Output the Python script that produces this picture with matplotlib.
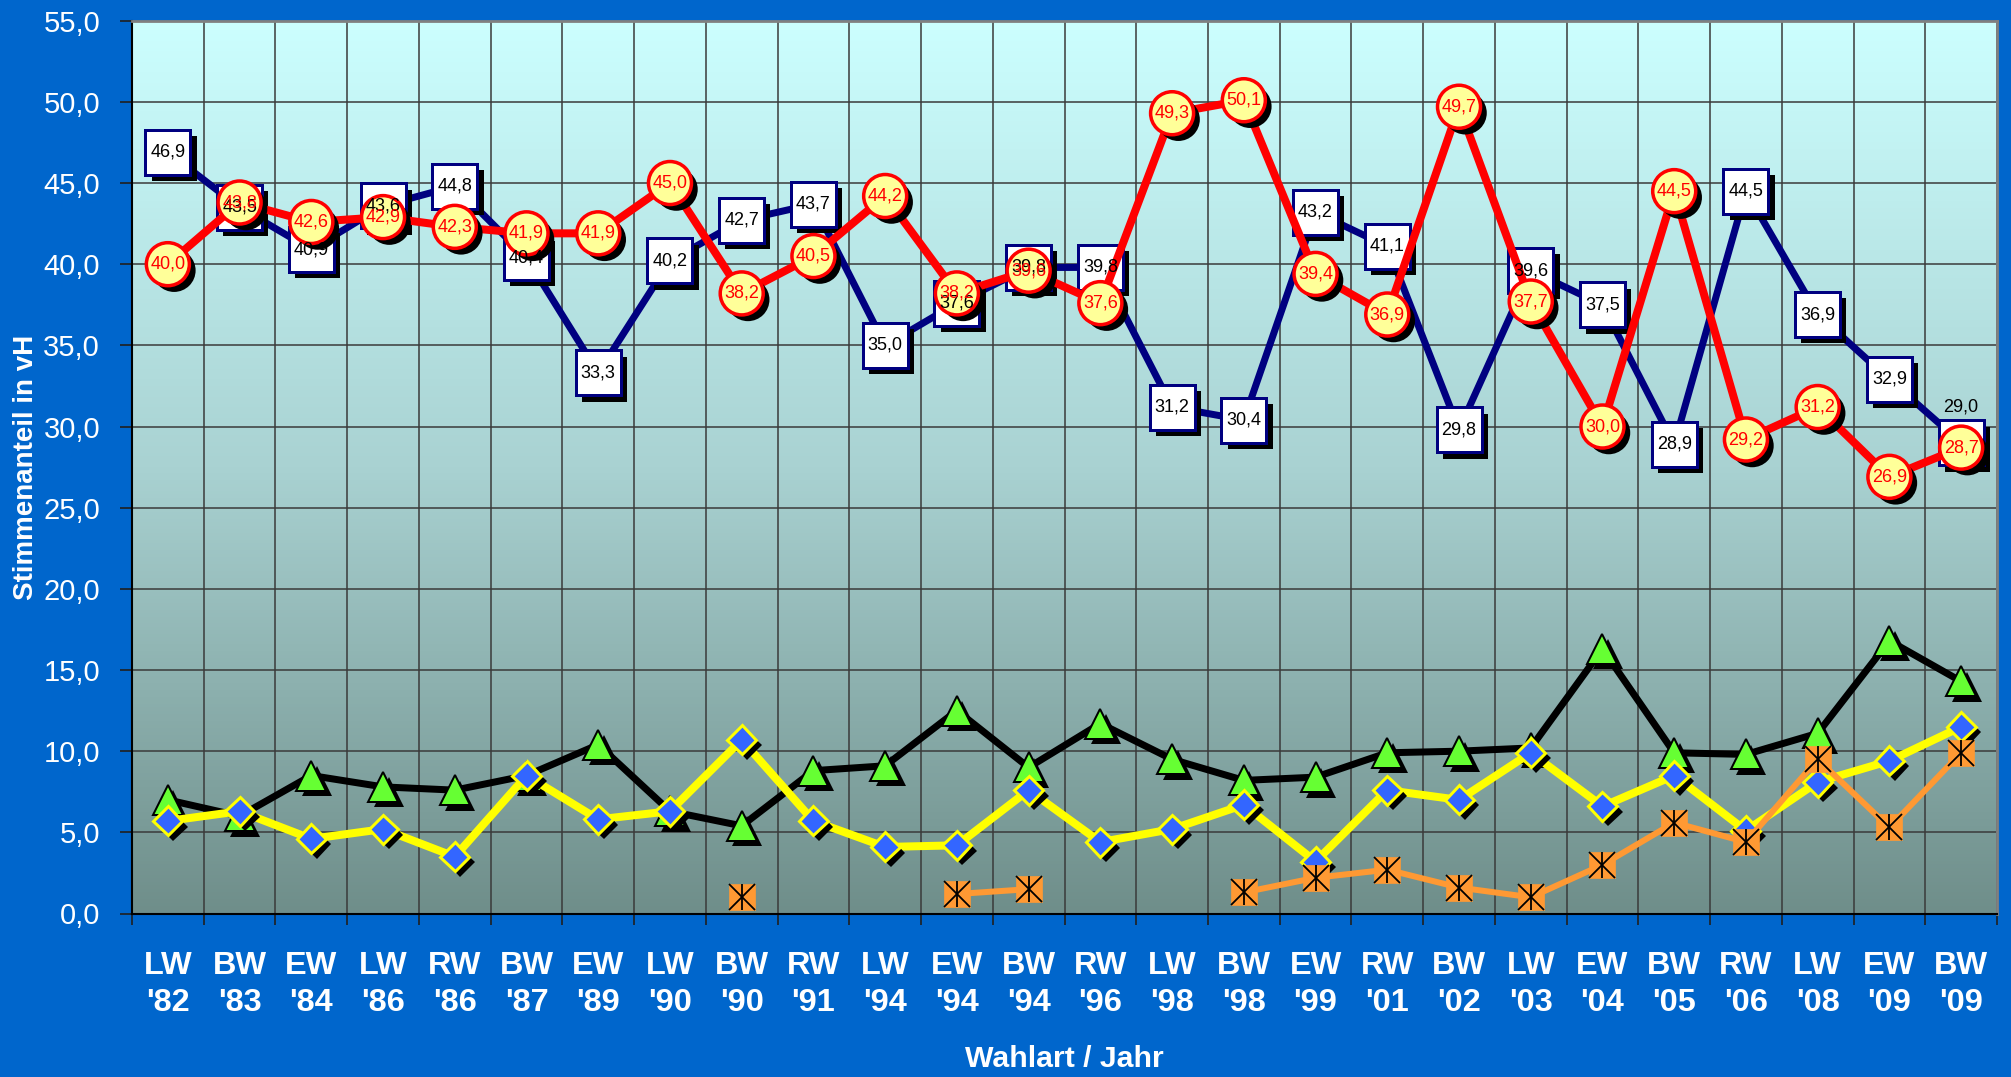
import numpy as np
import matplotlib
matplotlib.use("Agg")
import matplotlib.pyplot as plt
import matplotlib.patheffects as pe
from matplotlib.colors import LinearSegmentedColormap

plt.rcParams['font.family'] = ['Liberation Sans', 'DejaVu Sans']

categories = ["LW\n'82", "BW\n'83", "EW\n'84", "LW\n'86", "RW\n'86", "BW\n'87", "EW\n'89",
              "LW\n'90", "BW\n'90", "RW\n'91", "LW\n'94", "EW\n'94", "BW\n'94", "RW\n'96",
              "LW\n'98", "BW\n'98", "EW\n'99", "RW\n'01", "BW\n'02", "LW\n'03", "EW\n'04",
              "BW\n'05", "RW\n'06", "LW\n'08", "EW\n'09", "BW\n'09"]

blue = [46.9, 43.5, 40.9, 43.6, 44.8, 40.4, 33.3, 40.2, 42.7, 43.7, 35.0, 37.6, 39.8,
        39.8, 31.2, 30.4, 43.2, 41.1, 29.8, 39.6, 37.5, 28.9, 44.5, 36.9, 32.9, 29.0]
red = [40.0, 43.8, 42.6, 42.9, 42.3, 41.9, 41.9, 45.0, 38.2, 40.5, 44.2, 38.2, 39.6,
       37.6, 49.3, 50.1, 39.4, 36.9, 49.7, 37.7, 30.0, 44.5, 29.2, 31.2, 26.9, 28.7]
green = [7.0, 6.0, 8.5, 7.8, 7.6, 8.5, 10.4, 6.3, 5.4, 8.8, 9.1, 12.5, 9.0,
         11.7, 9.5, 8.2, 8.4, 9.9, 10.0, 10.2, 16.3, 9.9, 9.8, 11.1, 16.8, 14.3]
yellow = [5.7, 6.3, 4.6, 5.2, 3.5, 8.5, 5.8, 6.3, 10.7, 5.7, 4.1, 4.2, 7.6,
          4.4, 5.2, 6.7, 3.2, 7.6, 7.0, 9.9, 6.6, 8.5, 5.1, 8.1, 9.4, 11.5]
orange = [np.nan, np.nan, np.nan, np.nan, np.nan, np.nan, np.nan, np.nan, 1.0, np.nan,
          np.nan, 1.2, 1.5, np.nan, np.nan, 1.3, 2.2, 2.7, 1.6, 1.0, 3.0, 5.6, 4.4,
          9.5, 5.3, 9.9]

W, H = 2011, 1077
DPI = 100
fig = plt.figure(figsize=(W / DPI, H / DPI), dpi=DPI, facecolor='#0066CC')
ax = fig.add_axes([132 / W, (H - 913.5) / H, (1997 - 132) / W, (913.5 - 20.7) / H])

x = np.arange(len(categories))
ax.set_xlim(-0.5, len(categories) - 0.5)
ax.set_ylim(0, 55)

# gradient background
cmap = LinearSegmentedColormap.from_list('bg', ['#6F8E8A', '#A9D2D2', '#CCFFFF'])
grad = np.linspace(0, 1, 256).reshape(-1, 1)
ax.imshow(grad, extent=(-0.5, len(categories) - 0.5, 0, 55), origin='lower',
          aspect='auto', cmap=cmap, zorder=0)

px = 0.72  # points per pixel

# lower series
ax.plot(x, green, color='black', lw=7 * px, zorder=2, solid_joinstyle='miter')
ax.plot(x, green, ls='none', marker='^', ms=30 * px, mfc='#66FF33', mec='black',
        mew=2 * px, zorder=2.1,
        path_effects=[pe.SimplePatchShadow(offset=(4, -4), shadow_rgbFace='black', alpha=1), pe.Normal()])

ax.plot(x, yellow, color='#FFFF00', lw=8 * px, zorder=2.2)
ax.plot(x, yellow, ls='none', marker='D', ms=20.5 * px, mfc='#3366FF', mec='#FFFF00',
        mew=3 * px, zorder=2.3,
        path_effects=[pe.SimplePatchShadow(offset=(4, -4), shadow_rgbFace='black', alpha=1), pe.Normal()])

ax.plot(x, orange, color='#FF9933', lw=6 * px, zorder=2.4)
ax.plot(x, orange, ls='none', marker='s', ms=26 * px, mfc='#FF9933', mec='#FF9933',
        mew=0.5, zorder=2.5)
ax.plot(x, orange, ls='none', marker='x', ms=26 * px, mec='black', mew=1.3, zorder=2.6)
ax.plot(x, orange, ls='none', marker='|', ms=26 * px, mec='black', mew=1.3, zorder=2.6)

# upper series
ax.plot(x, blue, color='#000080', lw=7 * px, zorder=3)
ax.plot(x, blue, ls='none', marker='s', ms=45 * px, mfc='white', mec='#000080',
        mew=3 * px, zorder=3.1,
        path_effects=[pe.SimplePatchShadow(offset=(4.5, -4.5), shadow_rgbFace='black', alpha=1), pe.Normal()])

ax.plot(x, red, color='#FF0000', lw=8 * px, zorder=4)
ax.plot(x, red, ls='none', marker='o', ms=43 * px, mfc='#FFFF99', mec='#FF0000',
        mew=3.5 * px, zorder=4.1,
        path_effects=[pe.SimplePatchShadow(offset=(4.5, -4.5), shadow_rgbFace='black', alpha=1), pe.Normal()])

def fmt(v):
    return f"{v:.1f}".replace('.', ',')

for i, v in enumerate(blue):
    if i == len(blue) - 1:
        ax.annotate(fmt(v), (i, v), xytext=(0, 26), textcoords='offset points',
                    ha='center', va='center', fontsize=13, color='black', zorder=10)
    else:
        ax.text(i, v, fmt(v), ha='center', va='center', fontsize=13, color='black', zorder=10)
for i, v in enumerate(red):
    ax.text(i, v, fmt(v), ha='center', va='center', fontsize=13, color='#FF0000', zorder=10.5)

# grid and ticks
ax.set_yticks(np.arange(0, 56, 5))
ax.set_yticklabels([fmt(v) for v in np.arange(0, 56, 5)], fontsize=21, color='white')
ax.set_xticks(np.arange(-0.5, len(categories), 1.0))
ax.set_xticklabels([])
ax.set_xticks(x, minor=True)
ax.set_xticklabels(categories, minor=True, fontsize=23.4, fontweight='bold', color='white',
                   linespacing=1.3)
ax.tick_params(axis='x', which='minor', length=0, pad=27)
ax.tick_params(axis='x', which='major', length=8, width=1.2, color='#202020', direction='out')
ax.tick_params(axis='y', length=9, width=1.2, color='#202020', pad=14, direction='out')
ax.grid(True, which='major', color='#3a3a3a', lw=1.1, zorder=1)
ax.set_axisbelow(True)

for s in ['top', 'right']:
    ax.spines[s].set_color('#808080')
    ax.spines[s].set_linewidth(2)
for s in ['left', 'bottom']:
    ax.spines[s].set_color('black')
    ax.spines[s].set_linewidth(1.5)

fig.text(26 / W, 1 - 467 / H, 'Stimmenanteil in vH', rotation=90, ha='center', va='center',
         fontsize=20, fontweight='bold', color='white')
fig.text(1064.5 / W, 1 - 1059 / H, 'Wahlart / Jahr', ha='center', va='center',
         fontsize=21.8, fontweight='bold', color='white')

fig.savefig('out.png', dpi=DPI, facecolor=fig.get_facecolor())
